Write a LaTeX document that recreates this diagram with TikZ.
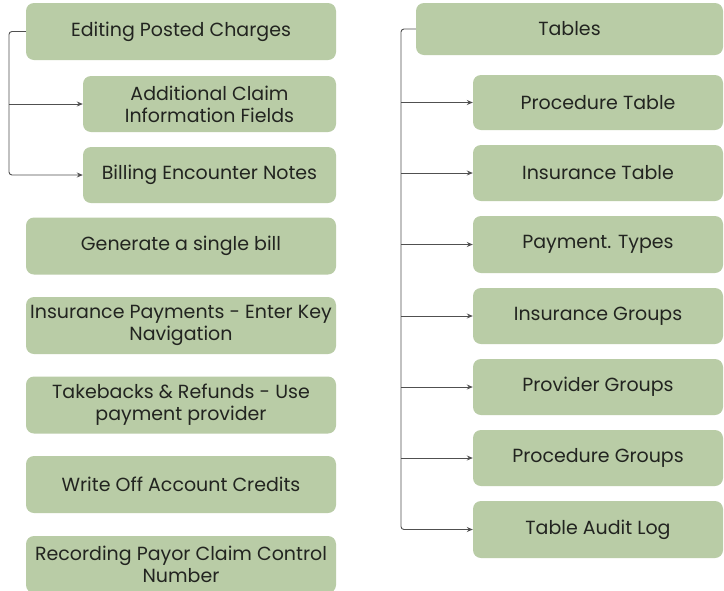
\documentclass[tikz,border=0pt]{standalone}
\usepackage{fontspec}
\setmainfont{Poppins}
\usetikzlibrary{arrows.meta}
\definecolor{boxfill}{RGB}{185,204,166}
\definecolor{txt}{RGB}{34,36,32}
\definecolor{ln}{RGB}{80,80,80}
\tikzset{
  box/.style={fill=boxfill, draw=none, rounded corners=8pt, text=txt, align=center,
    font=\fontsize{19}{22}\selectfont, inner sep=0pt},
  conn/.style={draw=ln, line width=0.9pt, rounded corners=3pt},
  arr/.style={conn, -{Stealth[length=6pt,width=5pt]}}
}
\begin{document}
\begin{tikzpicture}[x=1pt,y=-1pt]
\useasboundingbox (0,0) rectangle (724,590);
\fill[white] (0,0) rectangle (724,590);
% left column
\node[box, minimum width=310, minimum height=57] (edit) at (181,31.5) {Editing Posted Charges};
\node[box, minimum width=253, minimum height=56] (addl) at (209.5,104) {Additional Claim\\Information Fields};
\node[box, minimum width=253, minimum height=56] (bill) at (209.5,175) {Billing Encounter Notes};
\node[box, minimum width=310, minimum height=57] (gen) at (181,246) {Generate a single bill};
\node[box, minimum width=310, minimum height=57] (insp) at (181,325.5) {Insurance Payments - Enter Key\\Navigation};
\node[box, minimum width=310, minimum height=57] (take) at (181,405) {Takebacks \& Refunds - Use\\payment provider};
\node[box, minimum width=310, minimum height=57] (woff) at (181,484.5) {Write Off Account Credits};
\node[box, minimum width=310, minimum height=57] (rec) at (181,564.5) {Recording Payor Claim Control\\Number};
% right column
\node[box, minimum width=307, minimum height=52] (tables) at (569.5,29) {Tables};
\node[box, minimum width=250, minimum height=55] (proct) at (598,102.5) {Procedure Table};
\node[box, minimum width=250, minimum height=56] (inst) at (598,173) {Insurance Table};
\node[box, minimum width=250, minimum height=57] (payt) at (598,244.5) {Payment. Types};
\node[box, minimum width=250, minimum height=56] (insg) at (598,316) {Insurance Groups};
\node[box, minimum width=250, minimum height=56] (provg) at (598,387) {Provider Groups};
\node[box, minimum width=250, minimum height=56] (procg) at (598,458) {Procedure Groups};
\node[box, minimum width=250, minimum height=57] (audit) at (598,529.5) {Table Audit Log};
% left connectors
\coordinate (lt) at (9,31.5);
\coordinate (lb) at (9,175);
\draw[arr] (edit.west) -- (lt) -- (lb) -- (bill.west);
\draw[arr] (lt |- addl.west) -- (addl.west);
% right connectors
\coordinate (rt) at (401,29);
\coordinate (rb) at (401,529.5);
\draw[arr] (tables.west) -- (rt) -- (rb) -- (audit.west);
\foreach \n in {proct,inst,payt,insg,provg,procg}
  \draw[arr] (rt |- \n.west) -- (\n.west);
\end{tikzpicture}
\end{document}
